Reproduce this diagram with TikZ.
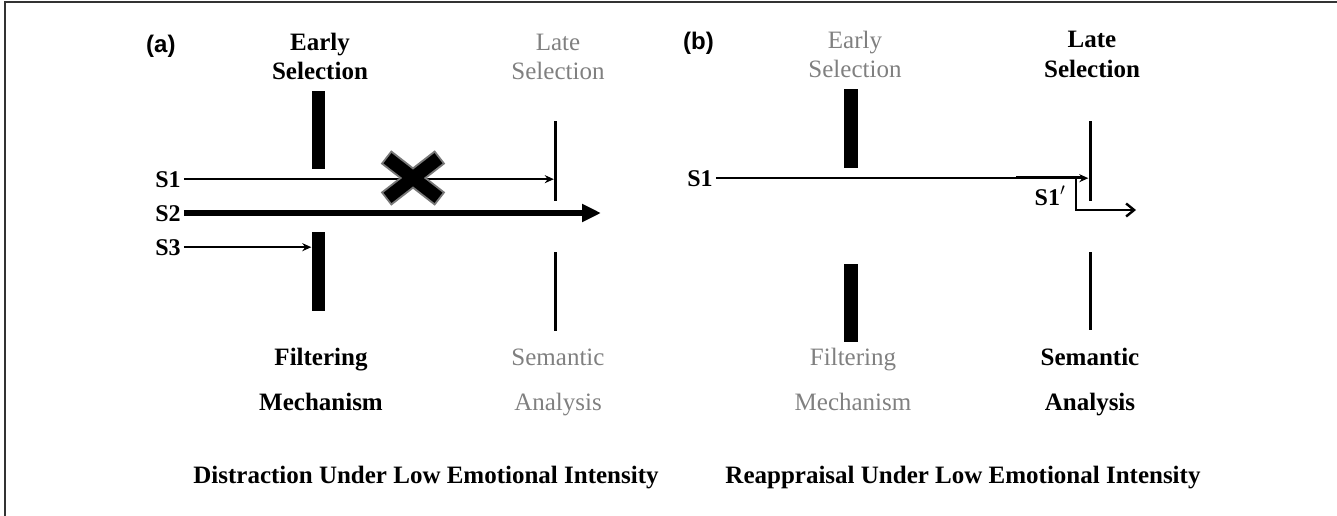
\documentclass[tikz,border=0pt]{standalone}
\usepackage{fontspec}
\setmainfont{Liberation Serif}
\newfontfamily\arialfont{Liberation Sans}
\usetikzlibrary{arrows.meta}
\definecolor{txtgray}{RGB}{128,128,128}
\definecolor{xgray}{RGB}{120,120,120}
\tikzset{
  lbl/.style={anchor=base, inner sep=0pt, font=\fontsize{25}{30}\selectfont},
  bold/.style={lbl, font=\fontsize{25}{30}\selectfont\bfseries},
  dim/.style={lbl, text=txtgray},
  panel/.style={anchor=base west, inner sep=0pt, font=\fontsize{24}{28}\selectfont\arialfont\bfseries},
  slab/.style={anchor=base, inner ysep=0pt, inner xsep=3pt, font=\fontsize{24}{28}\selectfont\bfseries},
  ebar/.style={fill=black, draw=none, minimum width=13pt, inner sep=0pt},
  lbar/.style={fill=black, draw=none, minimum width=3pt, inner sep=0pt},
  thinarrow/.style={line width=2pt, -{Stealth[length=9pt,width=8pt]}},
  thickarrow/.style={line width=6pt, -{Triangle[length=19pt,width=17pt]}},
  elbowarrow/.style={line width=2.4pt, -{Straight Barb[length=8pt,width=13pt]}},
  frame/.style={line width=1.6pt, black!80},
}
\begin{document}
\begin{tikzpicture}[x=1pt, y=-1pt]
\useasboundingbox (0,0) rectangle (1337,516);
% frame
\coordinate (fbl) at (5,516);
\coordinate (ftl) at (5,2);
\coordinate (ftr) at (1337,2);
\draw[frame] (fbl) -- (ftl) -- (ftr);

% ================= panel (a) =================
\node[panel] (pa) at (146,53) {(a)};
\node[bold] (ea1) at (320,51) {Early};
\node[bold] (ea2) at (320,80) {Selection};
\node[dim] (la1) at (558,51) {Late};
\node[dim] (la2) at (558,80) {Selection};

\node[ebar, minimum height=78pt] (eaU) at (318,130) {};
\node[ebar, minimum height=79pt] (eaL) at (318,271.5) {};
\node[lbar, minimum height=80pt] (laU) at (555.5,161) {};
\node[lbar, minimum height=79pt] (laL) at (555.5,291.5) {};

\node[slab] (s1a) at (168,187) {S1};
\node[slab] (s2a) at (168,221) {S2};
\node[slab] (s3a) at (168,255) {S3};

\draw[thinarrow] (s1a.east) -- (s1a.east -| laU.west);
\coordinate (s2end) at (601,213);
\draw[thickarrow] (s2a.east |- s2end) -- (s2end);
\draw[thinarrow] (s3a.east) -- (s3a.east -| eaL.west);

% X mark
\coordinate (xm) at (413,178);
\begin{scope}[shift={(xm)}]
  \draw[xgray, line width=17pt] (-27,-21) -- (27,21) (-27,21) -- (27,-21);
  \draw[black, line width=13pt] (-25.5,-19.8) -- (25.5,19.8) (-25.5,19.8) -- (25.5,-19.8);
\end{scope}

\node[bold] (fa1) at (321,365) {Filtering};
\node[bold] (fa2) at (321,410) {Mechanism};
\node[dim] (sa1) at (558,365) {Semantic};
\node[dim] (sa2) at (558,410) {Analysis};

\node[bold] (ta) at (426,483) {Distraction Under Low Emotional Intensity};

% ================= panel (b) =================
\node[panel] (pb) at (683,50) {(b)};
\node[dim] (eb1) at (855,49) {Early};
\node[dim] (eb2) at (855,78) {Selection};
\node[bold] (lb1) at (1092,48) {Late};
\node[bold] (lb2) at (1092,78) {Selection};

\node[ebar, minimum height=79pt, minimum width=14pt] (ebU) at (851,128.5) {};
\node[ebar, minimum height=78pt, minimum width=14pt] (ebL) at (851,303) {};
\node[lbar, minimum height=80pt] (lbU) at (1090,161) {};
\node[lbar, minimum height=78pt] (lbL) at (1090,291) {};

\node[slab] (s1b) at (700,186) {S1};
\draw[thinarrow] (s1b.east) -- (s1b.east -| lbU.west);
\coordinate (thk) at (1016,177);
\coordinate (thkend) at (1082,177);
\draw[line width=3pt] (thk) -- (thkend);
\node[slab, inner xsep=0pt] (s1p) at (1050,205) {S1$'$};
\coordinate (elb0) at (1076,178);
\coordinate (elb1) at (1136,210);
\draw[elbowarrow] (elb0) -- (elb0 |- elb1) -- (elb1);

\node[dim] (fb1) at (853,365) {Filtering};
\node[dim] (fb2) at (853,410) {Mechanism};
\node[bold] (sb1) at (1090,365) {Semantic};
\node[bold] (sb2) at (1090,410) {Analysis};

\node[bold] (tb) at (963,483) {Reappraisal Under Low Emotional Intensity};
\end{tikzpicture}
\end{document}
